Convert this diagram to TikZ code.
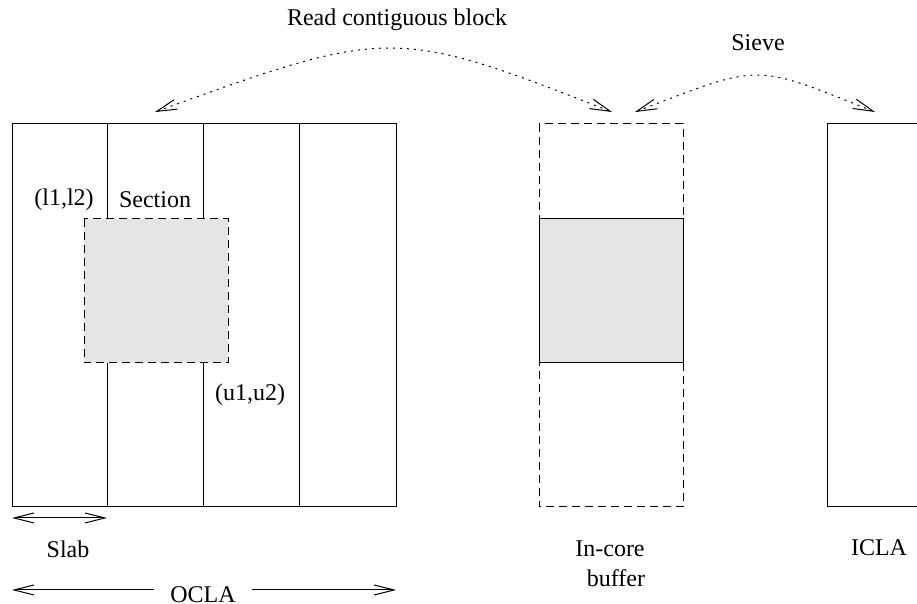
\documentclass[tikz,border=0pt]{standalone}
\usepackage{fontspec}
\setmainfont{Liberation Serif}
\usetikzlibrary{arrows.meta}
\colorlet{FilledSection}{black!10}

\begin{document}
\begin{tikzpicture}[x=0.5pt,y=-0.5pt,line width=0.5pt,
    >={Straight Barb[length=10pt,width=5pt]},
    every node/.style={font=\fontsize{12}{15}\selectfont},
    punteada/.style={dash pattern=on 1pt off 2.5pt},
    rayas/.style={dash pattern=on 4pt off 2.5pt}]

    \useasboundingbox (0,0) rectangle (917,604);

    \coordinate (A) at (12, 507);
    \coordinate (B) at (12, 124);
    \coordinate (C) at (396, 124);
    \coordinate (D) at (396, 507);

    % Seccion dentro del OCLA
    \coordinate (E) at (84, 219);
    \coordinate (F) at (228, 363);

    % Buffer en memoria
    \coordinate (G) at (539, 124);
    \coordinate (H) at (683, 507);

    % ICLA, cortado por el borde derecho
    \coordinate (I) at (827, 124);
    \coordinate (J) at (827, 507);

    \draw (A) rectangle (C);
    \foreach \x in {107, 203, 299}
        \draw (\x, 124) -- (\x, 507);
    \fill[FilledSection] (E) rectangle (F);
    \draw[rayas] (E) rectangle (F);

    \draw[rayas] (G) rectangle (H);
    \fill[FilledSection] (539, 219) rectangle (683, 363);
    \draw (539, 219) rectangle (683, 363);

    \draw (918, 124) -- (I) -- (J) -- (918, 507);

    \node (LowIdx) at (64, 200) {(l1,l2)};
    \node (Section) at (155, 200) {Section};
    \node (UpIdx) at (250, 395) {(u1,u2)};

    \node (Slab) at (68, 549) {Slab};
    \node[inner xsep=8pt] (OCLA) at (203, 595) {OCLA};
    \node[align=center] (Buffer) at (610, 564) {In-core\\\hspace*{6pt}buffer};
    \node (ICLA) at (879, 548) {ICLA};

    \node (Read) at (397, 20) {Read contiguous block};
    \node (Sieve) at (758, 43) {Sieve};

    \coordinate (SlabL) at (12, 518);
    \coordinate (SlabR) at (107, 518);
    \coordinate (OclaL) at (12, 590);
    \coordinate (OclaR) at (396, 590);
    \coordinate (ReadL) at (155, 112);
    \coordinate (ReadR) at (612, 112);
    \coordinate (SieveL) at (635, 112);
    \coordinate (SieveR) at (875, 112);

    \draw[<->] (SlabL) -- (SlabR);
    \draw[->] (OCLA.west |- OclaL) -- (OclaL);
    \draw[->] (OCLA.east |- OclaR) -- (OclaR);

    \draw[<->, punteada] (ReadL) .. controls (389, 27) and (395, 27) .. (ReadR);
    \draw[<->, punteada] (SieveL) .. controls (763, 63) and (752, 63) .. (SieveR);

\end{tikzpicture}
\end{document}
